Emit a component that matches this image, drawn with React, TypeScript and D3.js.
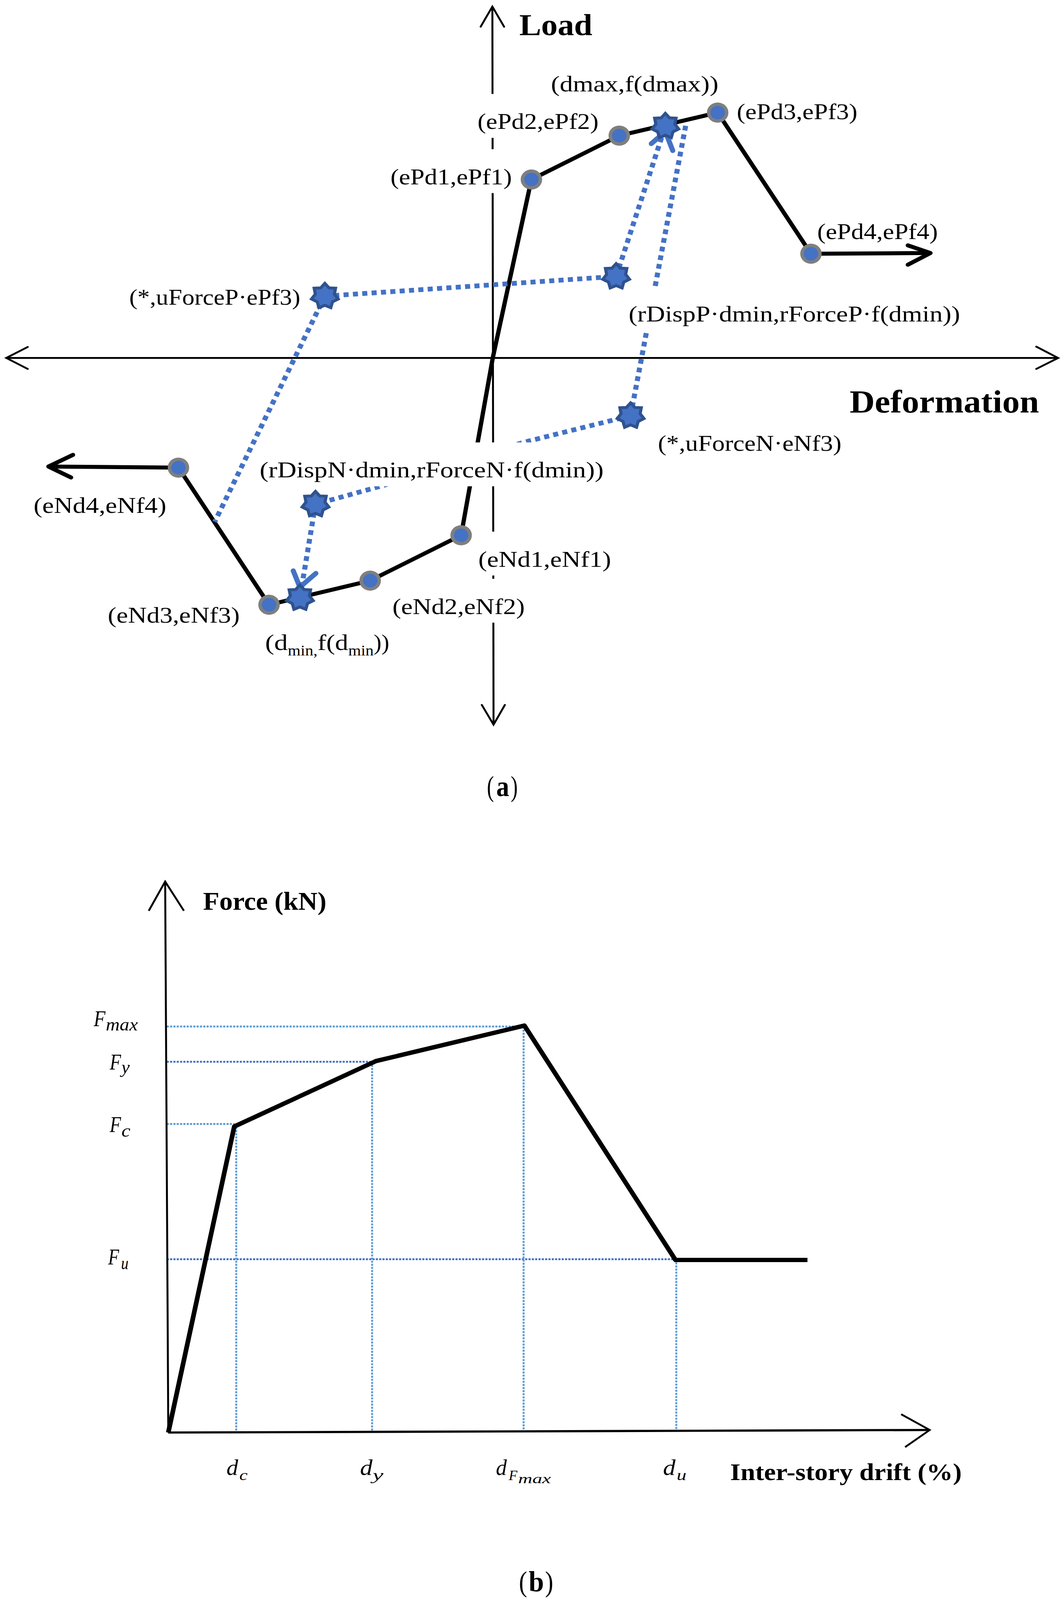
import * as d3 from 'd3';

const WIDTH = 2725;
const HEIGHT = 4376;

/* -- Data, panel (a): cyclic backbone ----------------------------------------------- */
const posDisp = [9.9, 32.4, 57.6, 81.5];
const posForce = [48.8, 60.8, 67.1, 28.5];
const negDisp = [-8.1, -31.4, -57.3, -80.5];
const negForce = [-48.5, -60.9, -67.5, -30.0];
const posTail = [112.1, 28.7];
const negTail = [-113.8, -29.7];

const dmaxPoint = [44.2, 63.4];
const reloadPoint = [31.6, 22.3];
const uForcePPoint = [-43.0, 16.9];
const uForceNPoint = [35.3, -15.8];
const rDispNPoint = [-45.4, -40.0];
const dminPoint = [-49.4, -65.6];
const unloadStart = [49.4, 63.5];
const negUnloadBend1 = [7.8, -23.1];
const negUnloadBend2 = [-28.1, -34.9];
const softeningHit = [-71.2, -44.8];

const labelsA = [
  '(dmax,f(dmax))',
  '(ePd3,ePf3)',
  '(ePd2,ePf2)',
  '(ePd1,ePf1)',
  '(ePd4,ePf4)',
  '(rDispP·dmin,rForceP·f(dmin))',
  '(*,uForceP·ePf3)',
  '(*,uForceN·eNf3)',
  '(rDispN·dmin,rForceN·f(dmin))',
  '(eNd4,eNf4)',
  '(eNd3,eNf3)',
  '(eNd2,eNf2)',
  '(eNd1,eNf1)',
];

/* -- Data, panel (b): envelope ------------------------------------------------------ */
const envDrift = [0, 16.9, 53.2, 91.2, 129.9, 163.7];
const envForce = [0, 83.7, 101.6, 111.3, 47.2, 47.2];
const forceLevels = [111.05, 101.4, 84.4, 47.4];
const forceLevelDrift = [91.0, 52.2, 17.0, 129.9];
const forceLevelColors = ['#5B9BD5', '#4472C4', '#5B9BD5', '#4472C4'];
const driftLevels = [17.4, 52.2, 91.0, 130.1];
const driftLevelTop = [84.4, 101.4, 111.05, 47.4];
const driftAxisEnd = [195, 0.7];
const forceAxisTop = [-0.8, 150.7];

/* -- Scales ------------------------------------------------------------------------- */
const xA = d3.scaleLinear().domain([-125, 145]).range([12, 2712]);
const yA = d3.scaleLinear().domain([-100, 100]).range([1979, -21]);
const xB = d3.scaleLinear().domain([0, 195]).range([431, 2381]);
const yB = d3.scaleLinear().domain([0, 150]).range([3918, 2418]);

const lineA = d3.line<number[]>().x((d) => xA(d[0])).y((d) => yA(d[1]));
const lineB = d3.line<number[]>().x((d) => xB(d[0])).y((d) => yB(d[1]));
const linePx = d3.line<number[]>();

const zip = (a: number[], b: number[]) => a.map((v, i) => [v, b[i]]);

// estrella de 7 puntas, como la forma original
const starPath = d3
  .lineRadial<number>()
  .angle((_, i) => (i * Math.PI) / 7)
  .radius((r) => r)
  .curve(d3.curveLinearClosed)(d3.range(14).map((i) => (i % 2 ? 25 : 35)));

const BLUE = '#4472C4';
const SERIF = '"Liberation Serif", serif';

type Seg = [string, number, number, number, number, string?, string?];

// varios tramos en un solo <text>: [texto, x, ancho, línea base, tamaño, peso, estilo]
const Fit = ({ parts }: { parts: Seg[] }) => (
  <text fontFamily={SERIF} fill="#000">
    {parts.map((s, i) => (
      <tspan
        key={i}
        x={s[1]}
        y={s[3]}
        fontSize={s[4]}
        fontWeight={s[5] ?? 'normal'}
        fontStyle={s[6] ?? 'normal'}
        textLength={s[2]}
        lengthAdjust="spacingAndGlyphs"
      >
        {s[0]}
      </tspan>
    ))}
  </text>
);

// [x, ancho, línea base, tapa el fondo]
const labelBoxes: [number, number, number, boolean][] = [
  [1411, 429, 250, false],
  [1887, 309, 326, false],
  [1223, 310, 353, true],
  [1000, 311, 504, true],
  [2093, 309, 654, false],
  [1610, 849, 879, true],
  [331, 438, 833, false],
  [1685, 470, 1233, false],
  [665, 881, 1306, true],
  [86, 340, 1403, false],
  [276, 338, 1703, false],
  [1005, 339, 1679, true],
  [1225, 340, 1550, true],
];

const titlesA: Seg[][] = [
  [['Load', 1330, 187, 96, 84, 'bold']],
  [['Deformation', 2176, 485, 1128, 88, 'bold']],
  [
    ['(', 1247, 18, 2177, 78],
    ['a', 1271, 33, 2177, 78, 'bold'],
    [')', 1308, 18, 2177, 78],
  ],
];

const dminLabel: Seg[] = [
  ['(d', 679, 58, 1778, 62],
  ['min,', 737, 76, 1793, 40],
  ['f(d', 813, 79, 1778, 62],
  ['min', 892, 65, 1793, 40],
  ['))', 957, 40, 1778, 62],
];

const IT = 'italic';
const mathB: Seg[][] = [
  [['F', 240, 30, 2807, 62, 'normal', IT], ['max', 271, 82, 2818, 50, 'normal', IT]],
  [['F', 281, 29, 2925, 62, 'normal', IT], ['y', 311, 21, 2935, 50, 'normal', IT]],
  [['F', 281, 29, 3096, 62, 'normal', IT], ['c', 311, 23, 3109, 50, 'normal', IT]],
  [['F', 277, 28, 3458, 62, 'normal', IT], ['u', 310, 19, 3471, 50, 'normal', IT]],
  [['d', 580, 30, 4034, 62, 'normal', IT], ['c', 613, 21, 4048, 40, 'normal', IT]],
  [['d', 922, 32, 4034, 62, 'normal', IT], ['y', 954, 28, 4048, 40, 'normal', IT]],
  [
    ['d', 1270, 28, 4034, 62, 'normal', IT],
    ['F', 1303, 22, 4048, 38, 'normal', IT],
    ['max', 1327, 84, 4057, 36, 'normal', IT],
  ],
  [['d', 1698, 32, 4034, 62, 'normal', IT], ['u', 1733, 25, 4048, 40, 'normal', IT]],
];

const titlesB: Seg[][] = [
  [['Force (kN)', 520, 316, 2488, 70, 'bold']],
  [['Inter-story drift (%)', 1870, 593, 4048, 66, 'bold']],
  [
    ['(', 1329, 21, 4352, 78],
    ['b', 1354, 39, 4352, 78, 'bold'],
    [')', 1396, 21, 4352, 78],
  ],
];

// punta de flecha a partir de la punta y sus dos brazos relativos
const head = (tip: number[], a: number[], b: number[]) =>
  linePx([
    [tip[0] + a[0], tip[1] + a[1]],
    tip,
    [tip[0] + b[0], tip[1] + b[1]],
  ]) ?? '';

const App = () => {
  // la ventana puede ser más baja que la figura: se ajusta la altura para que quepa entera
  const shownHeight = Math.min(HEIGHT, window.innerHeight || HEIGHT);

  const posCurve = lineA([[0, 0], ...zip(posDisp, posForce), posTail]) ?? '';
  const negCurve = lineA([[0, 0], ...zip(negDisp, negForce), negTail]) ?? '';

  const dotted = [
    [uForcePPoint, reloadPoint],
    [reloadPoint, dmaxPoint],
    [unloadStart, uForceNPoint],
    [uForceNPoint, negUnloadBend1, negUnloadBend2, rDispNPoint],
    [rDispNPoint, dminPoint],
    [uForcePPoint, softeningHit],
  ];
  const stars = [dmaxPoint, reloadPoint, uForcePPoint, uForceNPoint, rDispNPoint, dminPoint];
  const circles = [...zip(posDisp, posForce), ...zip(negDisp, negForce)];

  const dmaxTip = [xA(dmaxPoint[0]), yA(dmaxPoint[1]) + 15];
  const dminTip = [xA(dminPoint[0]), yA(dminPoint[1]) - 29];
  const posEnd = [xA(posTail[0]), yA(posTail[1])];
  const negEnd = [xA(negTail[0]), yA(negTail[1])];

  const left = [xA(-124.6), yA(0)];
  const right = [xA(144.8), yA(0)];
  const up = [xA(-0.1), yA(96.1)];
  const down = [xA(0.2), yA(-100.3)];

  const bRight = [xB(driftAxisEnd[0]), yB(driftAxisEnd[1])];
  const bUp = [xB(forceAxisTop[0]), yB(forceAxisTop[1])];

  return (
    <div style={{ width: WIDTH, height: shownHeight, margin: '-8px 0 0 -8px', overflow: 'hidden' }}>
      <svg
        width={WIDTH}
        height={shownHeight}
        viewBox={`0 0 ${WIDTH} ${HEIGHT}`}
        preserveAspectRatio="none"
        style={{ display: 'block', background: '#fff' }}
      >
        {/* Panel (a): ejes */}
        <g fill="none" stroke="#000" strokeWidth={5}>
          <path d={linePx([left, right]) ?? ''} />
          <path d={linePx([up, down]) ?? ''} />
          <path d={head(left, [55, -30], [55, 30])} strokeLinecap="round" />
          <path d={head(right, [-56, -31], [-56, 30])} strokeLinecap="round" />
          <path d={head(up, [-30, 55], [30, 55])} strokeLinecap="round" />
          <path d={head(down, [-30, -54], [29, -54])} strokeLinecap="round" />
        </g>

        {/* Curva envolvente */}
        <g fill="none" stroke="#000" strokeWidth={11} strokeLinejoin="round">
          <path d={posCurve} />
          <path d={negCurve} />
          <path d={head(posEnd, [-58, -21], [-58, 32])} strokeLinecap="round" />
          <path d={head(negEnd, [63, -32], [58, 30])} strokeLinecap="round" />
        </g>

        {/* Recorrido histerético */}
        <g fill="none" stroke={BLUE} strokeWidth={13} strokeDasharray="13 11">
          {dotted.map((p, i) => (
            <path key={i} d={lineA(p) ?? ''} />
          ))}
        </g>
        <g fill="none" stroke={BLUE} strokeWidth={13} strokeLinecap="round">
          <path d={head(dmaxTip, [-36, 33], [19, 52])} />
          <path d={head(dminTip, [-17, -45], [41, -38])} />
        </g>

        {/* Los rótulos tapan ejes y líneas */}
        {labelBoxes
          .filter((b) => b[3])
          .map((b, i) => (
            <rect key={i} x={b[0]} y={b[2] - 96} width={b[1]} height={120} fill="#fff" />
          ))}

        {circles.map((p, i) => (
          <circle key={i} cx={xA(p[0])} cy={yA(p[1])} r={23} fill={BLUE} stroke="#7F7F7F" strokeWidth={9} />
        ))}
        {stars.map((p, i) => (
          <path
            key={i}
            d={starPath ?? ''}
            transform={`translate(${xA(p[0])},${yA(p[1])})`}
            fill={BLUE}
            stroke="#2F528F"
            strokeWidth={8}
          />
        ))}

        {labelsA.map((t, i) => (
          <Fit key={t} parts={[[t, labelBoxes[i][0], labelBoxes[i][1], labelBoxes[i][2], 62]]} />
        ))}
        <Fit parts={dminLabel} />
        {titlesA.map((s, i) => (
          <Fit key={i} parts={s} />
        ))}

        {/* Panel (b) */}
        {forceLevels.map((f, i) => (
          <line
            key={i}
            x1={xB(-0.4)}
            x2={xB(forceLevelDrift[i])}
            y1={yB(f)}
            y2={yB(f)}
            stroke={forceLevelColors[i]}
            strokeWidth={5}
            strokeDasharray="5.5 3"
          />
        ))}
        {driftLevels.map((d, i) => (
          <line
            key={i}
            x1={xB(d)}
            x2={xB(d)}
            y1={yB(driftLevelTop[i])}
            y2={yB(0.5)}
            stroke="#5B9BD5"
            strokeWidth={5}
            strokeDasharray="5.5 3"
          />
        ))}
        <g fill="none" stroke="#000">
          <path d={lineB([[0, 0], forceAxisTop]) ?? ''} strokeWidth={5} />
          <path d={lineB([[0, 0], driftAxisEnd]) ?? ''} strokeWidth={6} />
          <path d={head(bUp, [-42, 80], [48, 80])} strokeWidth={5} />
          <path d={head(bRight, [-73, -43], [-63, 47])} strokeWidth={5} />
          <path d={lineB(zip(envDrift, envForce)) ?? ''} strokeWidth={12} strokeLinejoin="round" />
        </g>
        {mathB.map((s, i) => (
          <Fit key={i} parts={s} />
        ))}
        {titlesB.map((s, i) => (
          <Fit key={i} parts={s} />
        ))}
      </svg>
    </div>
  );
};

export default App;
